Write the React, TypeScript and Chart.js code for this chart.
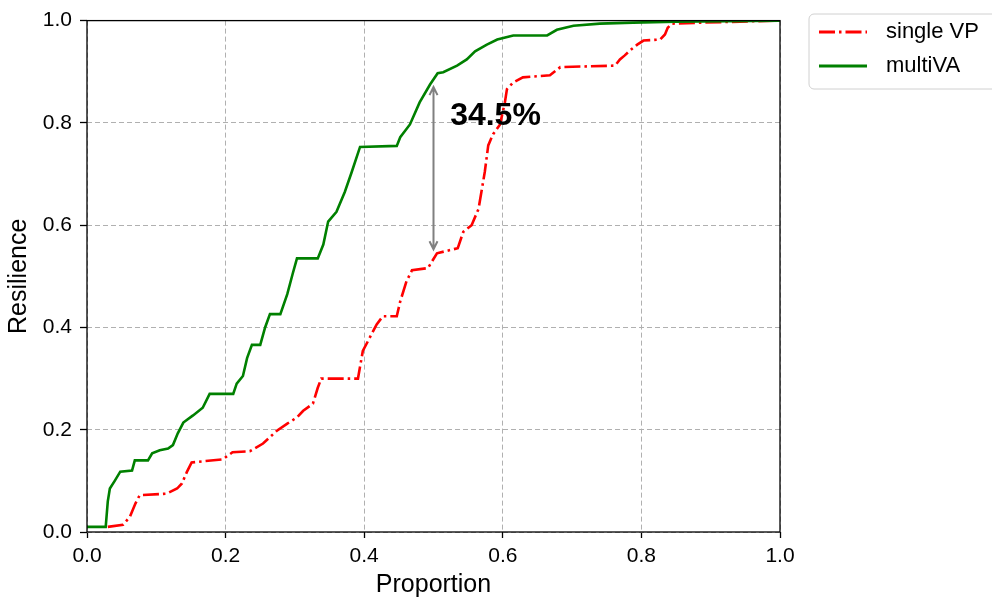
import React, { useEffect, useRef } from "react";
import { Chart, registerables } from "chart.js";

Chart.register(...registerables);

// ---- Data ----
const singleVpX = [0.03, 0.052, 0.062, 0.07, 0.076, 0.115, 0.13, 0.137, 0.144, 0.151, 0.196, 0.21, 0.235, 0.254, 0.274, 0.289, 0.303, 0.312, 0.326, 0.333, 0.338, 0.391, 0.398, 0.408, 0.418, 0.427, 0.447, 0.452, 0.461, 0.469, 0.492, 0.505, 0.535, 0.543, 0.555, 0.565, 0.574, 0.579, 0.586, 0.596, 0.603, 0.606, 0.615, 0.629, 0.668, 0.683, 0.762, 0.769, 0.776, 0.784, 0.794, 0.803, 0.827, 0.834, 0.838, 0.844, 0.885, 1.0];
const singleVpY = [0.01, 0.014, 0.03, 0.056, 0.072, 0.075, 0.085, 0.095, 0.117, 0.136, 0.142, 0.156, 0.158, 0.173, 0.198, 0.212, 0.224, 0.237, 0.251, 0.282, 0.3, 0.3, 0.354, 0.38, 0.406, 0.422, 0.422, 0.451, 0.49, 0.512, 0.516, 0.545, 0.555, 0.587, 0.6, 0.632, 0.704, 0.756, 0.778, 0.797, 0.84, 0.866, 0.879, 0.889, 0.893, 0.909, 0.912, 0.924, 0.932, 0.942, 0.953, 0.961, 0.963, 0.973, 0.986, 0.994, 0.996, 1.0];

const multiVaX = [0, 0.027, 0.03, 0.033, 0.04, 0.048, 0.065, 0.069, 0.088, 0.094, 0.105, 0.117, 0.124, 0.131, 0.139, 0.153, 0.167, 0.177, 0.211, 0.216, 0.225, 0.231, 0.238, 0.25, 0.257, 0.264, 0.279, 0.289, 0.297, 0.303, 0.333, 0.341, 0.348, 0.36, 0.372, 0.382, 0.394, 0.447, 0.452, 0.466, 0.48, 0.495, 0.506, 0.514, 0.534, 0.548, 0.56, 0.577, 0.592, 0.615, 0.664, 0.678, 0.702, 0.74, 0.788, 0.85, 1.0];
const multiVaY = [0.01, 0.01, 0.06, 0.085, 0.1, 0.118, 0.12, 0.14, 0.14, 0.154, 0.16, 0.163, 0.17, 0.193, 0.214, 0.228, 0.243, 0.27, 0.27, 0.29, 0.305, 0.34, 0.366, 0.366, 0.4, 0.426, 0.426, 0.465, 0.506, 0.535, 0.535, 0.562, 0.607, 0.626, 0.665, 0.704, 0.753, 0.755, 0.772, 0.797, 0.84, 0.875, 0.897, 0.899, 0.912, 0.924, 0.94, 0.953, 0.963, 0.971, 0.971, 0.982, 0.99, 0.994, 0.996, 0.998, 1.0];

const seriesNames = ["single VP", "multiVA"];
const tickValues = [0, 0.2, 0.4, 0.6, 0.8, 1.0];

// annotation (data coordinates)
const gapLabel = "34.5%";
const arrowX = 0.5;
const arrowTopY = 0.87;
const arrowBottomY = 0.553;
const labelX = 0.524;
const labelY = 0.813;

const FONT = "'Liberation Sans', Arial, Helvetica, sans-serif";
const RED = "#ff0000";
const GREEN = "#008000";
const RED_DASH = [16, 4, 2.5, 4];

const toPoints = (xs: number[], ys: number[]) => xs.map((x, i) => ({ x, y: ys[i] }));

export default function App() {
  const canvasRef = useRef<HTMLCanvasElement | null>(null);

  useEffect(() => {
    const canvas = canvasRef.current;
    if (!canvas) return;

    const framePlugin = {
      id: "frameAndExtras",
      afterDraw(chart: any) {
        const { ctx, chartArea } = chart;
        const xs = chart.scales.x;
        const ys = chart.scales.y;
        ctx.save();
        // frame
        ctx.strokeStyle = "#000";
        ctx.lineWidth = 1.3;
        ctx.setLineDash([]);
        ctx.strokeRect(chartArea.left, chartArea.top, chartArea.right - chartArea.left, chartArea.bottom - chartArea.top);

        // double-headed arrow
        const ax = xs.getPixelForValue(arrowX);
        const at = ys.getPixelForValue(arrowTopY);
        const ab = ys.getPixelForValue(arrowBottomY);
        ctx.strokeStyle = "#808080";
        ctx.lineWidth = 2;
        ctx.beginPath();
        ctx.moveTo(ax, at);
        ctx.lineTo(ax, ab);
        ctx.moveTo(ax - 4, at + 8);
        ctx.lineTo(ax, at);
        ctx.lineTo(ax + 4, at + 8);
        ctx.moveTo(ax - 4, ab - 8);
        ctx.lineTo(ax, ab);
        ctx.lineTo(ax + 4, ab - 8);
        ctx.stroke();

        // label
        ctx.fillStyle = "#000";
        ctx.font = `bold 32px ${FONT}`;
        ctx.textAlign = "left";
        ctx.textBaseline = "middle";
        ctx.fillText(gapLabel, xs.getPixelForValue(labelX), ys.getPixelForValue(labelY));

        // legend
        const lx = 809, ly = 14, lw = 190, lh = 75, r = 5;
        ctx.beginPath();
        ctx.moveTo(lx + r, ly);
        ctx.lineTo(lx + lw - r, ly);
        ctx.arcTo(lx + lw, ly, lx + lw, ly + r, r);
        ctx.lineTo(lx + lw, ly + lh - r);
        ctx.arcTo(lx + lw, ly + lh, lx + lw - r, ly + lh, r);
        ctx.lineTo(lx + r, ly + lh);
        ctx.arcTo(lx, ly + lh, lx, ly + lh - r, r);
        ctx.lineTo(lx, ly + r);
        ctx.arcTo(lx, ly, lx + r, ly, r);
        ctx.closePath();
        ctx.fillStyle = "rgba(255,255,255,0.8)";
        ctx.fill();
        ctx.strokeStyle = "#d0d0d0";
        ctx.lineWidth = 1;
        ctx.stroke();

        const rows = [
          { name: seriesNames[0], color: RED, dash: RED_DASH, y: 32 },
          { name: seriesNames[1], color: GREEN, dash: [] as number[], y: 66 },
        ];
        rows.forEach((row) => {
          ctx.strokeStyle = row.color;
          ctx.lineWidth = 2.8;
          ctx.setLineDash(row.dash);
          ctx.beginPath();
          ctx.moveTo(819, row.y);
          ctx.lineTo(867, row.y);
          ctx.stroke();
          ctx.setLineDash([]);
          ctx.fillStyle = "#000";
          ctx.font = `22px ${FONT}`;
          ctx.textAlign = "left";
          ctx.textBaseline = "middle";
          ctx.fillText(row.name, 886, row.y);
        });
        ctx.restore();
      },
    };

    const tickCfg = {
      color: "#000",
      font: { family: FONT, size: 21 },
      callback: (v: any) => Number(v).toFixed(1),
    };

    const chart = new Chart(canvas, {
      type: "line",
      data: {
        datasets: [
          {
            label: seriesNames[0],
            data: toPoints(singleVpX, singleVpY),
            borderColor: RED,
            backgroundColor: RED,
            borderWidth: 2.6,
            borderDash: RED_DASH,
            pointRadius: 0,
            tension: 0,
            fill: false,
            order: 1,
          },
          {
            label: seriesNames[1],
            data: toPoints(multiVaX, multiVaY),
            borderColor: GREEN,
            backgroundColor: GREEN,
            borderWidth: 2.6,
            pointRadius: 0,
            tension: 0,
            fill: false,
            order: 0,
          },
        ],
      },
      options: {
        animation: false,
        responsive: false,
        devicePixelRatio: 1,
        layout: { padding: { left: 0, top: 18, right: 212, bottom: 0 } },
        plugins: { legend: { display: false }, tooltip: { enabled: false } },
        scales: {
          x: {
            type: "linear",
            min: 0,
            max: 1,
            afterBuildTicks: (s: any) => {
              s.ticks = tickValues.map((v) => ({ value: v }));
            },
            afterFit: (s: any) => {
              s.height = 66;
            },
            ticks: { ...tickCfg, padding: 6, maxRotation: 0 },
            grid: {
              color: "#b0b0b0",
              lineWidth: 1,
              tickLength: 6,
              tickColor: "#000",
              tickWidth: 1.3,
            },
            border: { display: false, dash: [5, 3] },
            title: {
              display: true,
              text: "Proportion",
              color: "#000",
              font: { family: FONT, size: 25, lineHeight: 1 },
              padding: { top: 0, bottom: 0.5 },
            },
          },
          y: {
            type: "linear",
            min: 0,
            max: 1,
            afterBuildTicks: (s: any) => {
              s.ticks = tickValues.map((v) => ({ value: v }));
            },
            afterFit: (s: any) => {
              s.width = 87;
            },
            ticks: { ...tickCfg, padding: 8 },
            grid: {
              color: "#b0b0b0",
              lineWidth: 1,
              tickLength: 7,
              tickColor: "#000",
              tickWidth: 1.3,
            },
            border: { display: false, dash: [5, 3] },
            title: {
              display: true,
              text: "Resilience",
              color: "#000",
              font: { family: FONT, size: 25, lineHeight: 1 },
              padding: { top: 6.5, bottom: 0 },
            },
          },
        },
      },
      plugins: [framePlugin],
    } as any);

    return () => chart.destroy();
  }, []);

  return (
    <div style={{ position: "absolute", left: 0, top: 0, width: 992, height: 598, background: "#fff" }}>
      <canvas ref={canvasRef} width={992} height={598} style={{ width: 992, height: 598, display: "block" }} />
    </div>
  );
}
